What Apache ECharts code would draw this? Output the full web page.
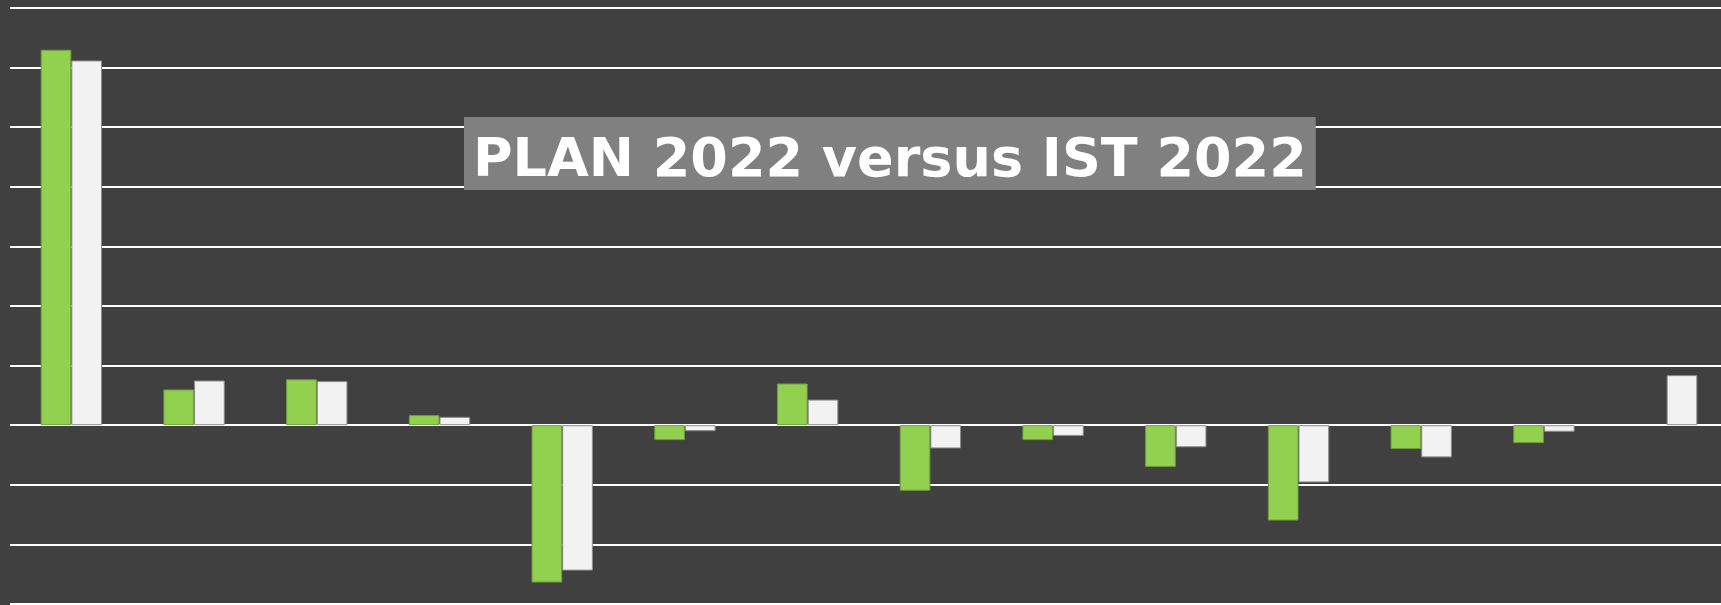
<!DOCTYPE html>
<html>
<head>
<meta charset="utf-8">
<title>PLAN 2022 versus IST 2022</title>
<script src="https://cdn.jsdelivr.net/npm/echarts@6/dist/echarts.min.js"></script>
<style>
  html, body { margin: 0; padding: 0; background: #404040; }
  #chart { width: 1721px; height: 605px; }
</style>
</head>
<body>
<div id="chart"></div>
<script>
// no category labels are visible in the picture
var categories = ['1', '2', '3', '4', '5', '6', '7', '8', '9', '10', '11', '12', '13', '14'];
var planValues = [630, 60, 77, 17, -264, -25, 70, -110, -25, -70, -160, -40, -30, null];
var istValues = [612, 75, 74, 14, -244, -10, 43, -39, -18, -37, -96, -54, -11, 84];
var titleText = 'PLAN 2022 versus IST 2022';

var chart = echarts.init(document.getElementById('chart'));

var options = {
    backgroundColor: '#404040',
    animation: false,
    title: {
        text: titleText,
        left: 464,
        top: 117,
        backgroundColor: '#808080',
        padding: [16, 9, 0, 9],
        textStyle: {
            color: '#ffffff',
            fontFamily: 'DejaVu Sans',
            fontWeight: 'bold',
            fontSize: 54,
            lineHeight: 57
        }
    },
    // plot area runs a little past the right edge of the picture
    grid: {
        left: 10,
        top: 8,
        width: 1718,
        height: 596,
        outerBoundsMode: 'none'
    },
    xAxis: {
        type: 'category',
        data: categories,
        axisLine: { show: false },
        axisTick: { show: false },
        axisLabel: { show: false }
    },
    yAxis: {
        type: 'value',
        min: -300,
        max: 700,
        interval: 100,
        axisLine: { show: false },
        axisTick: { show: false },
        axisLabel: { show: false },
        splitLine: {
            lineStyle: { color: '#ffffff', width: 2 }
        }
    },
    series: [
        {
            name: 'PLAN 2022',
            type: 'bar',
            data: planValues,
            barGap: '0%',
            barCategoryGap: '50%',
            itemStyle: {
                color: '#92d050',
                borderColor: '#6f9a3e',
                borderWidth: 1
            }
        },
        {
            name: 'IST 2022',
            type: 'bar',
            data: istValues,
            barGap: '0%',
            barCategoryGap: '50%',
            itemStyle: {
                color: '#f2f2f2',
                borderColor: '#8c8c8c',
                borderWidth: 1
            }
        }
    ]
};

chart.setOption(options);
</script>
</body>
</html>
